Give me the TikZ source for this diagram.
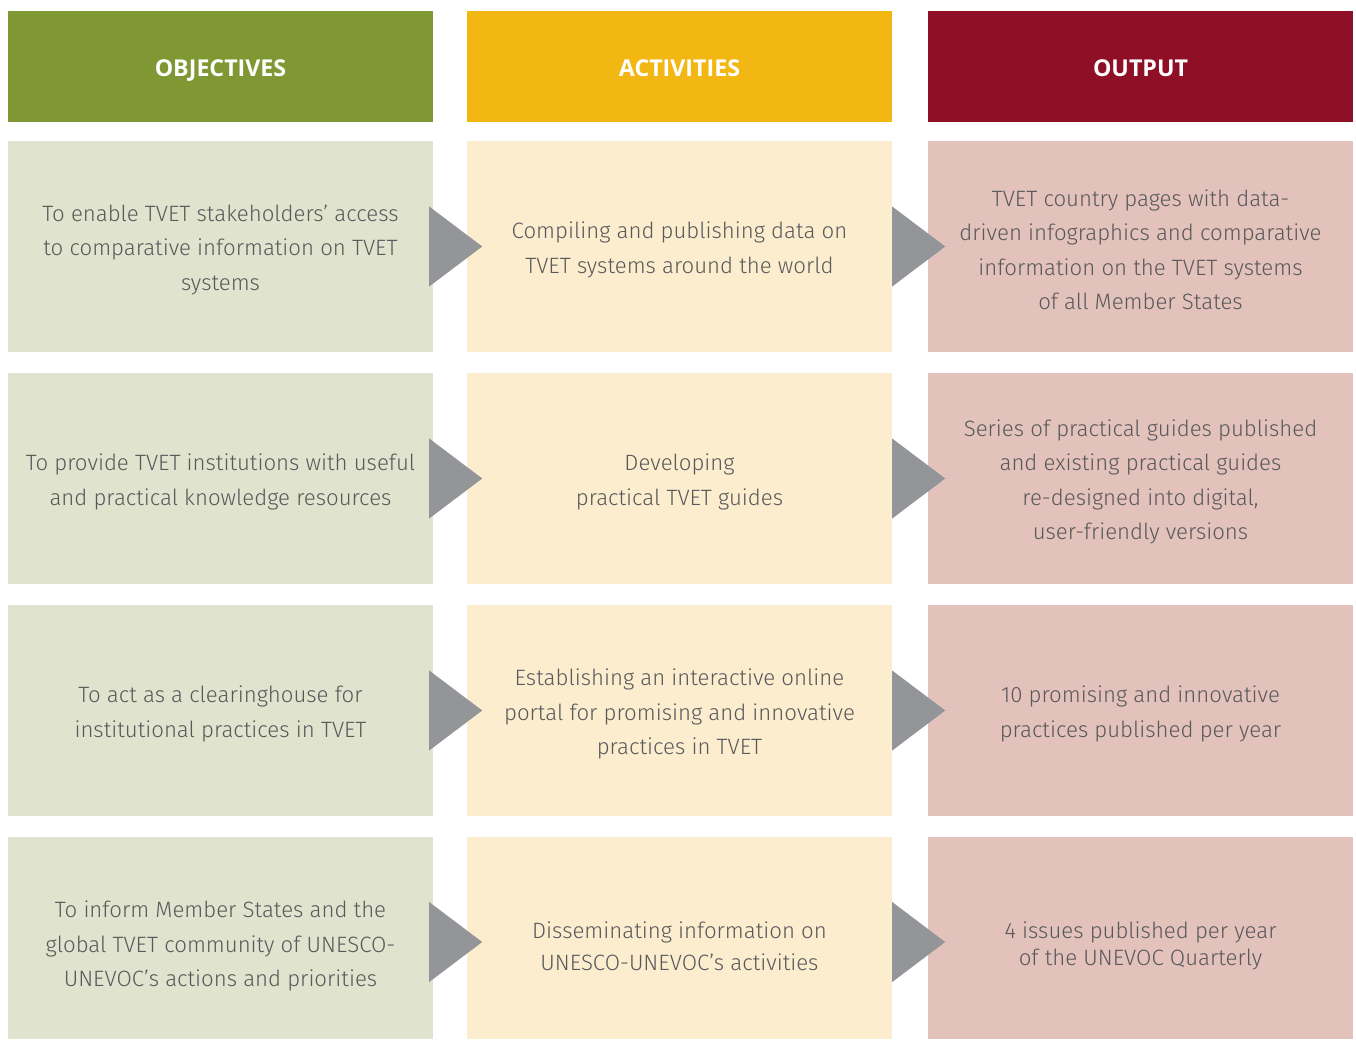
\documentclass[tikz,border=0pt]{standalone}
\usepackage{fontspec}
\setmainfont{Fira Sans Light}
\newfontfamily\headfont{Open Sans}
\usetikzlibrary{calc}
\definecolor{hgreen}{HTML}{7F9833}
\definecolor{hyellow}{HTML}{F3B713}
\definecolor{hred}{HTML}{8E0F26}
\definecolor{lgreen}{HTML}{E0E3CD}
\definecolor{lyellow}{HTML}{FDEDCF}
\definecolor{lred}{HTML}{E3C2BB}
\definecolor{tri}{HTML}{939598}
\definecolor{txt}{HTML}{58595B}
\tikzset{
  head/.style={fill=#1, draw=none, minimum width=425pt, minimum height=111pt, inner sep=0pt},
  headtext/.style={text=white, font=\headfont\fontsize{23.2}{26}\selectfont\bfseries, anchor=base, inner sep=0pt},
  cell/.style={fill=#1, draw=none, minimum width=425pt, minimum height=211pt, inner sep=0pt},
  lab/.style={text=txt, align=center, font=\fontsize{22.2}{34.5}\selectfont, inner sep=0pt},
  tricon/.style={fill=tri, draw=none}
}
% #1 node, #2 x-offset of base, #3 y-offset of centre
\newcommand{\tria}[3]{\fill[tricon] ($(#1.east)+(#2,#3+40pt)$) -- ($(#1.east)+(#2+53pt,#3)$) -- ($(#1.east)+(#2,#3-40pt)$) -- cycle;}
\begin{document}
\begin{tikzpicture}[x=1pt,y=-1pt]
\useasboundingbox (0,0) rectangle (1356,1039);
\fill[white] (0,0) rectangle (1356,1039);
% headers
\node[head=hgreen] (h1) at (220.5,66.5) {};
\node[head=hyellow] (h2) at (679.5,66.5) {};
\node[head=hred] (h3) at (1140.5,66.5) {};
\node[headtext] (ht1) at (220.5,76.5) {OBJECTIVES};
\node[headtext] (ht2) at (679.5,76.5) {ACTIVITIES};
\node[headtext] (ht3) at (1140.5,76.5) {OUTPUT};
% row 1
\node[cell=lgreen] (o1) at (220.5,246.5) {};
\node[cell=lyellow] (a1) at (679.5,246.5) {};
\node[cell=lred] (r1) at (1140.5,246.5) {};
% row 2
\node[cell=lgreen] (o2) at (220.5,478.5) {};
\node[cell=lyellow] (a2) at (679.5,478.5) {};
\node[cell=lred] (r2) at (1140.5,478.5) {};
% row 3
\node[cell=lgreen] (o3) at (220.5,710.5) {};
\node[cell=lyellow] (a3) at (679.5,710.5) {};
\node[cell=lred] (r3) at (1140.5,710.5) {};
% row 4
\node[cell=lgreen, minimum height=202pt] (o4) at (220.5,938) {};
\node[cell=lyellow, minimum height=202pt] (a4) at (679.5,938) {};
\node[cell=lred, minimum height=202pt] (r4) at (1140.5,938) {};
% texts
\node[lab] (to1) at (220.5,250) {To enable TVET stakeholders’ access\\to comparative information on TVET\\systems};
\node[lab] (ta1) at (679.5,250) {Compiling and publishing data on\\TVET systems around the world};
\node[lab] (tr1) at (1140.5,250) {TVET country pages with data-\\driven infographics and comparative\\information on the TVET systems\\of all Member States};
\node[lab] (to2) at (220.5,482) {To provide TVET institutions with useful\\and practical knowledge resources};
\node[lab] (ta2) at (679.5,482) {Developing\\practical TVET guides};
\node[lab] (tr2) at (1140.5,482) {Series of practical guides published\\and existing practical guides\\re-designed into digital,\\user-friendly versions};
\node[lab] (to3) at (220.5,714) {To act as a clearinghouse for\\institutional practices in TVET};
\node[lab] (ta3) at (679.5,714) {Establishing an interactive online\\portal for promising and innovative\\practices in TVET};
\node[lab] (tr3) at (1140.5,714) {10 promising and innovative\\practices published per year};
\node[lab] (to4) at (220.5,946) {To inform Member States and the\\global TVET community of UNESCO-\\UNEVOC’s actions and priorities};
\node[lab, font=\fontsize{22.2}{32}\selectfont] (ta4) at (679.5,946) {Disseminating information on\\UNESCO-UNEVOC’s activities};
\node[lab, font=\fontsize{22.2}{27}\selectfont] (tr4) at (1140.5,946) {4 issues published per year\\of the UNEVOC Quarterly};
% arrows
\tria{o1}{-4pt}{0pt} \tria{a1}{0pt}{0pt}
\tria{o2}{-4pt}{0pt} \tria{a2}{0pt}{0pt}
\tria{o3}{-4pt}{0pt} \tria{a3}{0pt}{0pt}
\tria{o4}{-4pt}{-4pt} \tria{a4}{0pt}{-4pt}
\end{tikzpicture}
\end{document}
